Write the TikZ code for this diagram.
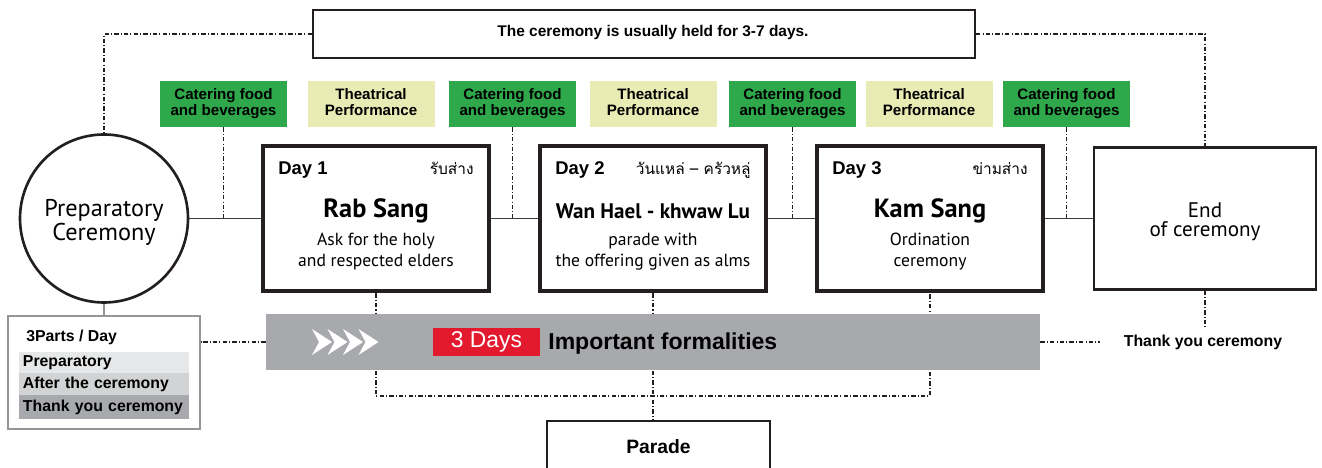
\documentclass[tikz,border=0pt]{standalone}
\usepackage{fontspec}
\setmainfont{Liberation Sans}
\newfontfamily\humfont{PT Sans}
\newfontfamily\thaifont[Script=Thai]{Loma}
\usepackage{tikz}
\usetikzlibrary{positioning, calc}
\definecolor{ink}{HTML}{231F20}
\definecolor{linegray}{HTML}{3A3A3C}
\definecolor{catering}{HTML}{2EA84A}
\definecolor{theatre}{HTML}{E8ECB4}
\definecolor{bandgray}{HTML}{A7A9AC}
\definecolor{daysred}{HTML}{E3192D}
\definecolor{rowlight}{HTML}{E6E7E8}
\definecolor{rowmid}{HTML}{D1D3D4}
\definecolor{rowdark}{HTML}{A7A9AC}
\definecolor{partgray}{HTML}{939598}

\begin{document}
\begin{tikzpicture}[
    lbl/.style={rectangle, minimum width=2.54cm, minimum height=0.92cm, inner sep=0pt,
                align=center, font=\bfseries\fontsize{8.6}{9.1}\selectfont},
    food/.style={lbl, fill=catering},
    perf/.style={lbl, fill=theatre},
    daybox/.style={rectangle, draw=ink, line width=2.6pt, minimum width=4.52cm, minimum height=2.9cm},
    daytag/.style={anchor=base west, inner sep=0pt, font=\bfseries\fontsize{10.5}{12}\selectfont},
    daythai/.style={anchor=base east, inner sep=0pt, font=\thaifont\fontsize{8.8}{11}\selectfont},
    dayttl/.style={font=\humfont\bfseries\fontsize{15}{17}\selectfont},
    daysub/.style={align=center, font=\humfont\fontsize{10}{12}\selectfont},
    row/.style={rectangle, minimum height=0.44cm, text width=3.24cm, inner xsep=0.08cm, inner ysep=0pt,
                align=left, font=\bfseries\fontsize{9}{10}\selectfont},
    dashln/.style={draw=ink, line width=0.6pt, dash pattern=on 2.5pt off 1.2pt on 0.6pt off 1.2pt},
    solidln/.style={draw=linegray, line width=0.8pt}
]
\useasboundingbox (0,0) rectangle (26.44,-9.36);

% top row
\node[rectangle, draw=ink, line width=1.2pt, minimum width=13.24cm, minimum height=0.96cm] (span) at (12.88,-0.68) {};
\node[font=\bfseries\fontsize{8.8}{10}\selectfont] (spantxt) at (13.06,-0.66) {The ceremony is usually held for 3-7 days.};

\node[food] (food1) at (4.47,-2.08) {Catering food\\and beverages\strut};
\node[perf] (perf1) at (7.42,-2.08) {Theatrical\\Performance\strut};
\node[food] (food2) at (10.25,-2.08) {Catering food\\and beverages\strut};
\node[perf] (perf2) at (13.06,-2.08) {Theatrical\\Performance\strut};
\node[food] (food3) at (15.85,-2.08) {Catering food\\and beverages\strut};
\node[perf] (perf3) at (18.58,-2.08) {Theatrical\\Performance\strut};
\node[food] (food4) at (21.33,-2.08) {Catering food\\and beverages\strut};

% main chain
\node[circle, draw=ink, line width=1.5pt, minimum size=3.36cm, align=center,
      font=\humfont\fontsize{13.8}{12}\selectfont] (prep) at (2.08,-4.37) {\rule{0pt}{14pt}Preparatory\\Ceremony};
\node[daybox] (day1) at (7.52,-4.37) {};
\node[daybox] (day2) at (13.06,-4.37) {};
\node[daybox] (day3) at (18.60,-4.37) {};
\node[rectangle, draw=ink, line width=1.5pt, minimum width=4.44cm, minimum height=2.84cm, align=center,
      font=\humfont\fontsize{12}{11}\selectfont] (end) at (24.10,-4.37) {\rule{0pt}{12pt}End\\of ceremony};

\node[daytag] (tag1) at ($(day1.center)+(-1.96,0.87)$) {Day 1};
\node[daythai] (thai1) at ($(day1.center)+(1.96,0.87)$) {รับส่าง};
\node[dayttl] (ttl1) at ($(day1.center)+(0,0.15)$) {Rab Sang};
\node[daysub] (sub1) at ($(day1.center)+(0,-0.66)$) {Ask for the holy\\and respected elders};

\node[daytag] (tag2) at ($(day2.center)+(-1.96,0.87)$) {Day 2};
\node[daythai] (thai2) at ($(day2.center)+(1.96,0.87)$) {วันแหล่ – ครัวหลู่};
\node[dayttl, font=\humfont\bfseries\fontsize{12}{14}\selectfont] (ttl2) at ($(day2.center)+(0,0.15)$) {Wan Hael - khwaw Lu};
\node[daysub] (sub2) at ($(day2.center)+(0,-0.66)$) {parade with\\the offering given as alms};

\node[daytag] (tag3) at ($(day3.center)+(-1.96,0.87)$) {Day 3};
\node[daythai] (thai3) at ($(day3.center)+(1.96,0.87)$) {ข่ามส่าง};
\node[dayttl] (ttl3) at ($(day3.center)+(0,0.15)$) {Kam Sang};
\node[daysub] (sub3) at ($(day3.center)+(0,-0.66)$) {Ordination\\ceremony};

\draw[solidln] (prep) -- (day1);
\draw[solidln] (day1) -- (day2);
\draw[solidln] (day2) -- (day3);
\draw[solidln] (day3) -- (end);

\draw[dashln] (span.west) -| (prep.north);
\draw[dashln] (span.east) -| (end.north);
\draw[dashln] (food1.south) -- (food1.south |- prep.east);
\draw[dashln] (food2.south) -- (food2.south |- prep.east);
\draw[dashln] (food3.south) -- (food3.south |- prep.east);
\draw[dashln] (food4.south) -- (food4.south |- prep.east);

% lower part
\node[rectangle, draw=ink, line width=1.1pt, minimum width=4.46cm, minimum height=1.04cm,
      font=\bfseries\fontsize{11}{12}\selectfont] (parade) at (13.17,-8.94) {Parade};
\coordinate (lowrun) at (13.06,-7.92);
\draw[dashln] (day1.south) |- (lowrun) -| (day3.south);
\draw[dashln] (day2.south) -- (day2.south |- parade.north);

\node[fill=bandgray, minimum width=15.48cm, minimum height=1.12cm, inner sep=0pt] (band) at (13.06,-6.84) {};
\foreach \cx in {6.24,6.55,6.86,7.17}
    \fill[white] (\cx,-6.58) -- ++(0.4,-0.26) -- ++(-0.4,-0.26) -- ++(0.14,0.26) -- cycle;
\node[fill=daysred, text=white, minimum width=2.14cm, minimum height=0.56cm, inner sep=0pt,
      font=\fontsize{13}{14}\selectfont] (days) at (9.73,-6.84) {3 Days};
\node[anchor=west, inner sep=0pt, font=\bfseries\fontsize{13.1}{14}\selectfont] (formal) at (10.96,-6.87) {Important formalities};

\node[rectangle, draw=partgray, line width=0.6pt, minimum width=3.84cm, minimum height=2.26cm] (parts) at (2.08,-7.45) {};
\node[anchor=west, inner sep=0pt, font=\bfseries\fontsize{9}{10}\selectfont] (partshd) at (0.52,-6.74) {3Parts / Day};
\node[row, fill=rowlight, minimum height=0.42cm] (row1) at (2.08,-7.25) {Preparatory};
\node[row, fill=rowmid] (row2) at (2.08,-7.68) {After the ceremony};
\node[row, fill=rowdark, minimum height=0.48cm] (row3) at (2.08,-8.14) {Thank you ceremony};

\node[font=\bfseries\fontsize{9}{10}\selectfont] (thank) at (24.06,-6.84) {Thank you ceremony};

\draw[draw=partgray, line width=0.8pt] (prep.south) -- (parts.north);
\draw[dashln] (band.west) -- (band.west -| parts.east);
\draw[dashln, shorten >=0.36cm] (band.east) -- (thank.west);
\draw[dashln] (end.south) -- (end.south |- thank.north);
\end{tikzpicture}
\end{document}
